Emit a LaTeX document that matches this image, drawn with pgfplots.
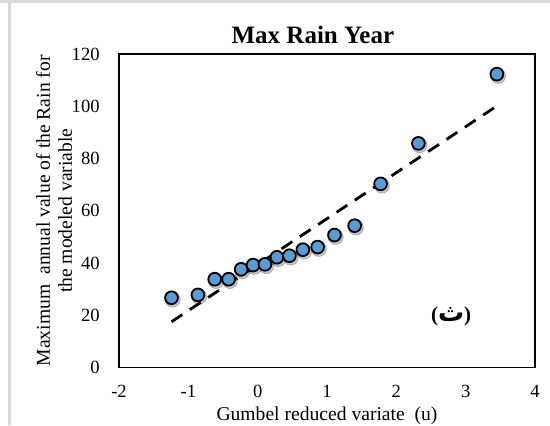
\documentclass[border=0pt]{standalone}
\usepackage{pgfplots}
\pgfplotsset{compat=1.18}
\usepackage{fontspec}
\setmainfont{Liberation Serif}
\newfontfamily\arabicfont[Script=Arabic]{DejaVu Sans}
\TeXXeTstate=1
\definecolor{markblue}{HTML}{5B9BD5}
\pgfplotstableread{
u y
-1.243 26.7
-0.862 27.8
-0.619 33.8
-0.419 33.8
-0.238 37.6
-0.066 39.2
0.105 39.5
0.278 42.2
0.458 42.8
0.652 45.1
0.865 46.1
1.108 50.7
1.399 54.3
1.773 70.3
2.318 85.8
3.450 112.3
}\rain
\pgfplotstableread{
u y
-1.243 17.5
3.450 100.1
}\trend
\begin{document}
\begin{tikzpicture}
\clip (0,0) rectangle (275pt,212.5pt);
\useasboundingbox (0,0) rectangle (275pt,212.5pt);
\fill[black!15] (0,211pt) rectangle (275pt,212.5pt);
\fill[black!15] (4pt,0) rectangle (5.5pt,212.5pt);
\begin{axis}[
  at={(59.5pt,28.75pt)}, anchor=south west,
  scale only axis, width=208pt, height=156.75pt,
  xmin=-2, xmax=4, ymin=0, ymax=120,
  xtick={-2,-1,0,1,2,3,4},
  xticklabels={-2,-1,0,1,2,3,4},
  ytick={0,20,40,60,80,100,120},
  yticklabels={0,20,40,60,80,100,120},
  major tick length=0pt,
  axis line style={line width=0.9pt},
  tick label style={font=\fontsize{9.3}{11}\selectfont, inner sep=0pt},
  xticklabel style={anchor=north, yshift=-8.75pt},
  yticklabel style={anchor=east, xshift=-9.5pt},
  every axis title shift/.style={yshift=0pt},
  title={Max Rain Year},
  title style={font=\bfseries\fontsize{12.5}{14}\selectfont, at={(axis description cs:0.466,0.9942)}, anchor=base, inner sep=0pt},
  xlabel={Gumbel reduced variate~~(u)},
  xlabel style={font=\fontsize{9.8}{11}\selectfont, at={(axis description cs:0.5,-0.168)}, anchor=base, inner sep=0pt},
  ylabel={Maximum~~annual value of the Rain for\\the modeled variable},
  ylabel style={font=\fontsize{9.8}{11}\selectfont, align=center, at={(axis description cs:-0.1563,0.5)}, anchor=center, inner sep=0pt},
  clip=false,
]
\addplot[only marks, mark=*, mark size=3.8pt, mark options={draw=none, fill=black, opacity=0.22}, xshift=0.6pt, yshift=-0.9pt] table[x=u,y=y] {\rain};
\addplot[only marks, mark=*, mark size=3.2pt, mark options={draw=black, line width=0.9pt, fill=markblue}] table[x=u,y=y] {\rain};
\addplot[no marks, black, line width=1.4pt, dash pattern=on 6.5pt off 4.5pt] table[x=u,y=y] {\trend};
\node[font=\bfseries\fontsize{10.5}{12}\selectfont, inner sep=0pt] at (axis cs:2.79,19.6) {({\arabicfont\fontsize{13}{14}\selectfont\beginR ث\endR})};
\end{axis}
\end{tikzpicture}
\end{document}
